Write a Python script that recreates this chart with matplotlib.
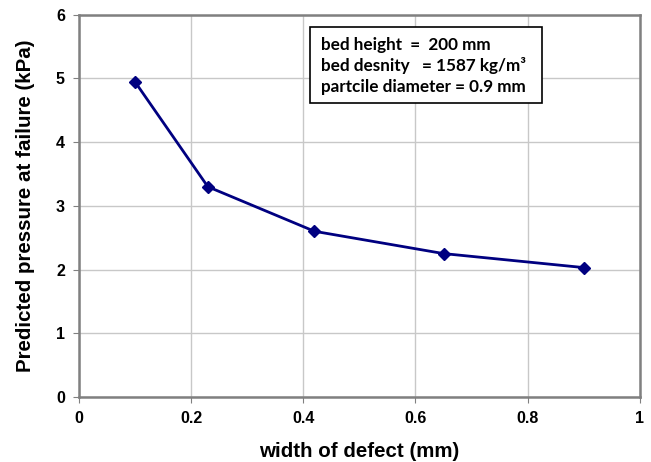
import matplotlib
matplotlib.use("Agg")
import matplotlib.pyplot as plt
import matplotlib.patches as patches

# defect width (mm) vs predicted failure pressure (kPa)
defect_width = [0.1, 0.23, 0.42, 0.65, 0.9]
pressure = [4.95, 3.30, 2.60, 2.25, 2.03]

x_ticks = [0, 0.2, 0.4, 0.6, 0.8, 1]
x_tick_labels = ["0", "0.2", "0.4", "0.6", "0.8", "1"]
y_ticks = [0, 1, 2, 3, 4, 5, 6]

info_lines = [
    "bed height  =  200 mm",
    "bed desnity   = 1587 kg/m\u00b3",
    "partcile diameter = 0.9 mm",
]

plt.rcParams['font.family'] = ['Liberation Sans', 'DejaVu Sans']

fig = plt.figure(figsize=(6.51, 4.62), dpi=100)
ax = fig.add_axes([0.121, 0.141, 0.862, 0.827])

ax.plot(defect_width, pressure, color="#000080", lw=2, marker="D",
        markersize=6.5, markerfacecolor="#000080", markeredgecolor="#000080",
        zorder=3)

ax.set_xlim(0, 1)
ax.set_ylim(0, 6)
ax.set_xticks(x_ticks)
ax.set_xticklabels(x_tick_labels)
ax.set_yticks(y_ticks)
ax.grid(True, color="#c8c8c8", lw=1)
ax.set_axisbelow(True)

for side in ax.spines.values():
    side.set_color("#808080")
    side.set_linewidth(1.8)

ax.tick_params(axis="both", direction="out", length=4, color="#808080",
               labelsize=11.5, pad=6)
for lab in ax.get_xticklabels() + ax.get_yticklabels():
    lab.set_fontweight("bold")

ax.set_xlabel("width of defect (mm)", fontsize=14.8, fontweight="bold", labelpad=12)
ax.set_ylabel("Predicted pressure at failure (kPa)", fontsize=14.8,
              fontweight="bold", labelpad=15)

# info box
box = patches.Rectangle((0.412, 0.770), 0.413, 0.199, transform=ax.transAxes,
                        facecolor="white", edgecolor="black", lw=1.2, zorder=4)
ax.add_patch(box)
for i, line in enumerate(info_lines):
    ax.text(0.431, 0.921 - i * 0.0545, line, transform=ax.transAxes,
            ha="left", va="center", fontsize=12.3, fontweight="bold",
            family=["Lato", "DejaVu Sans"], zorder=5)

fig.savefig("out.png", dpi=100)
